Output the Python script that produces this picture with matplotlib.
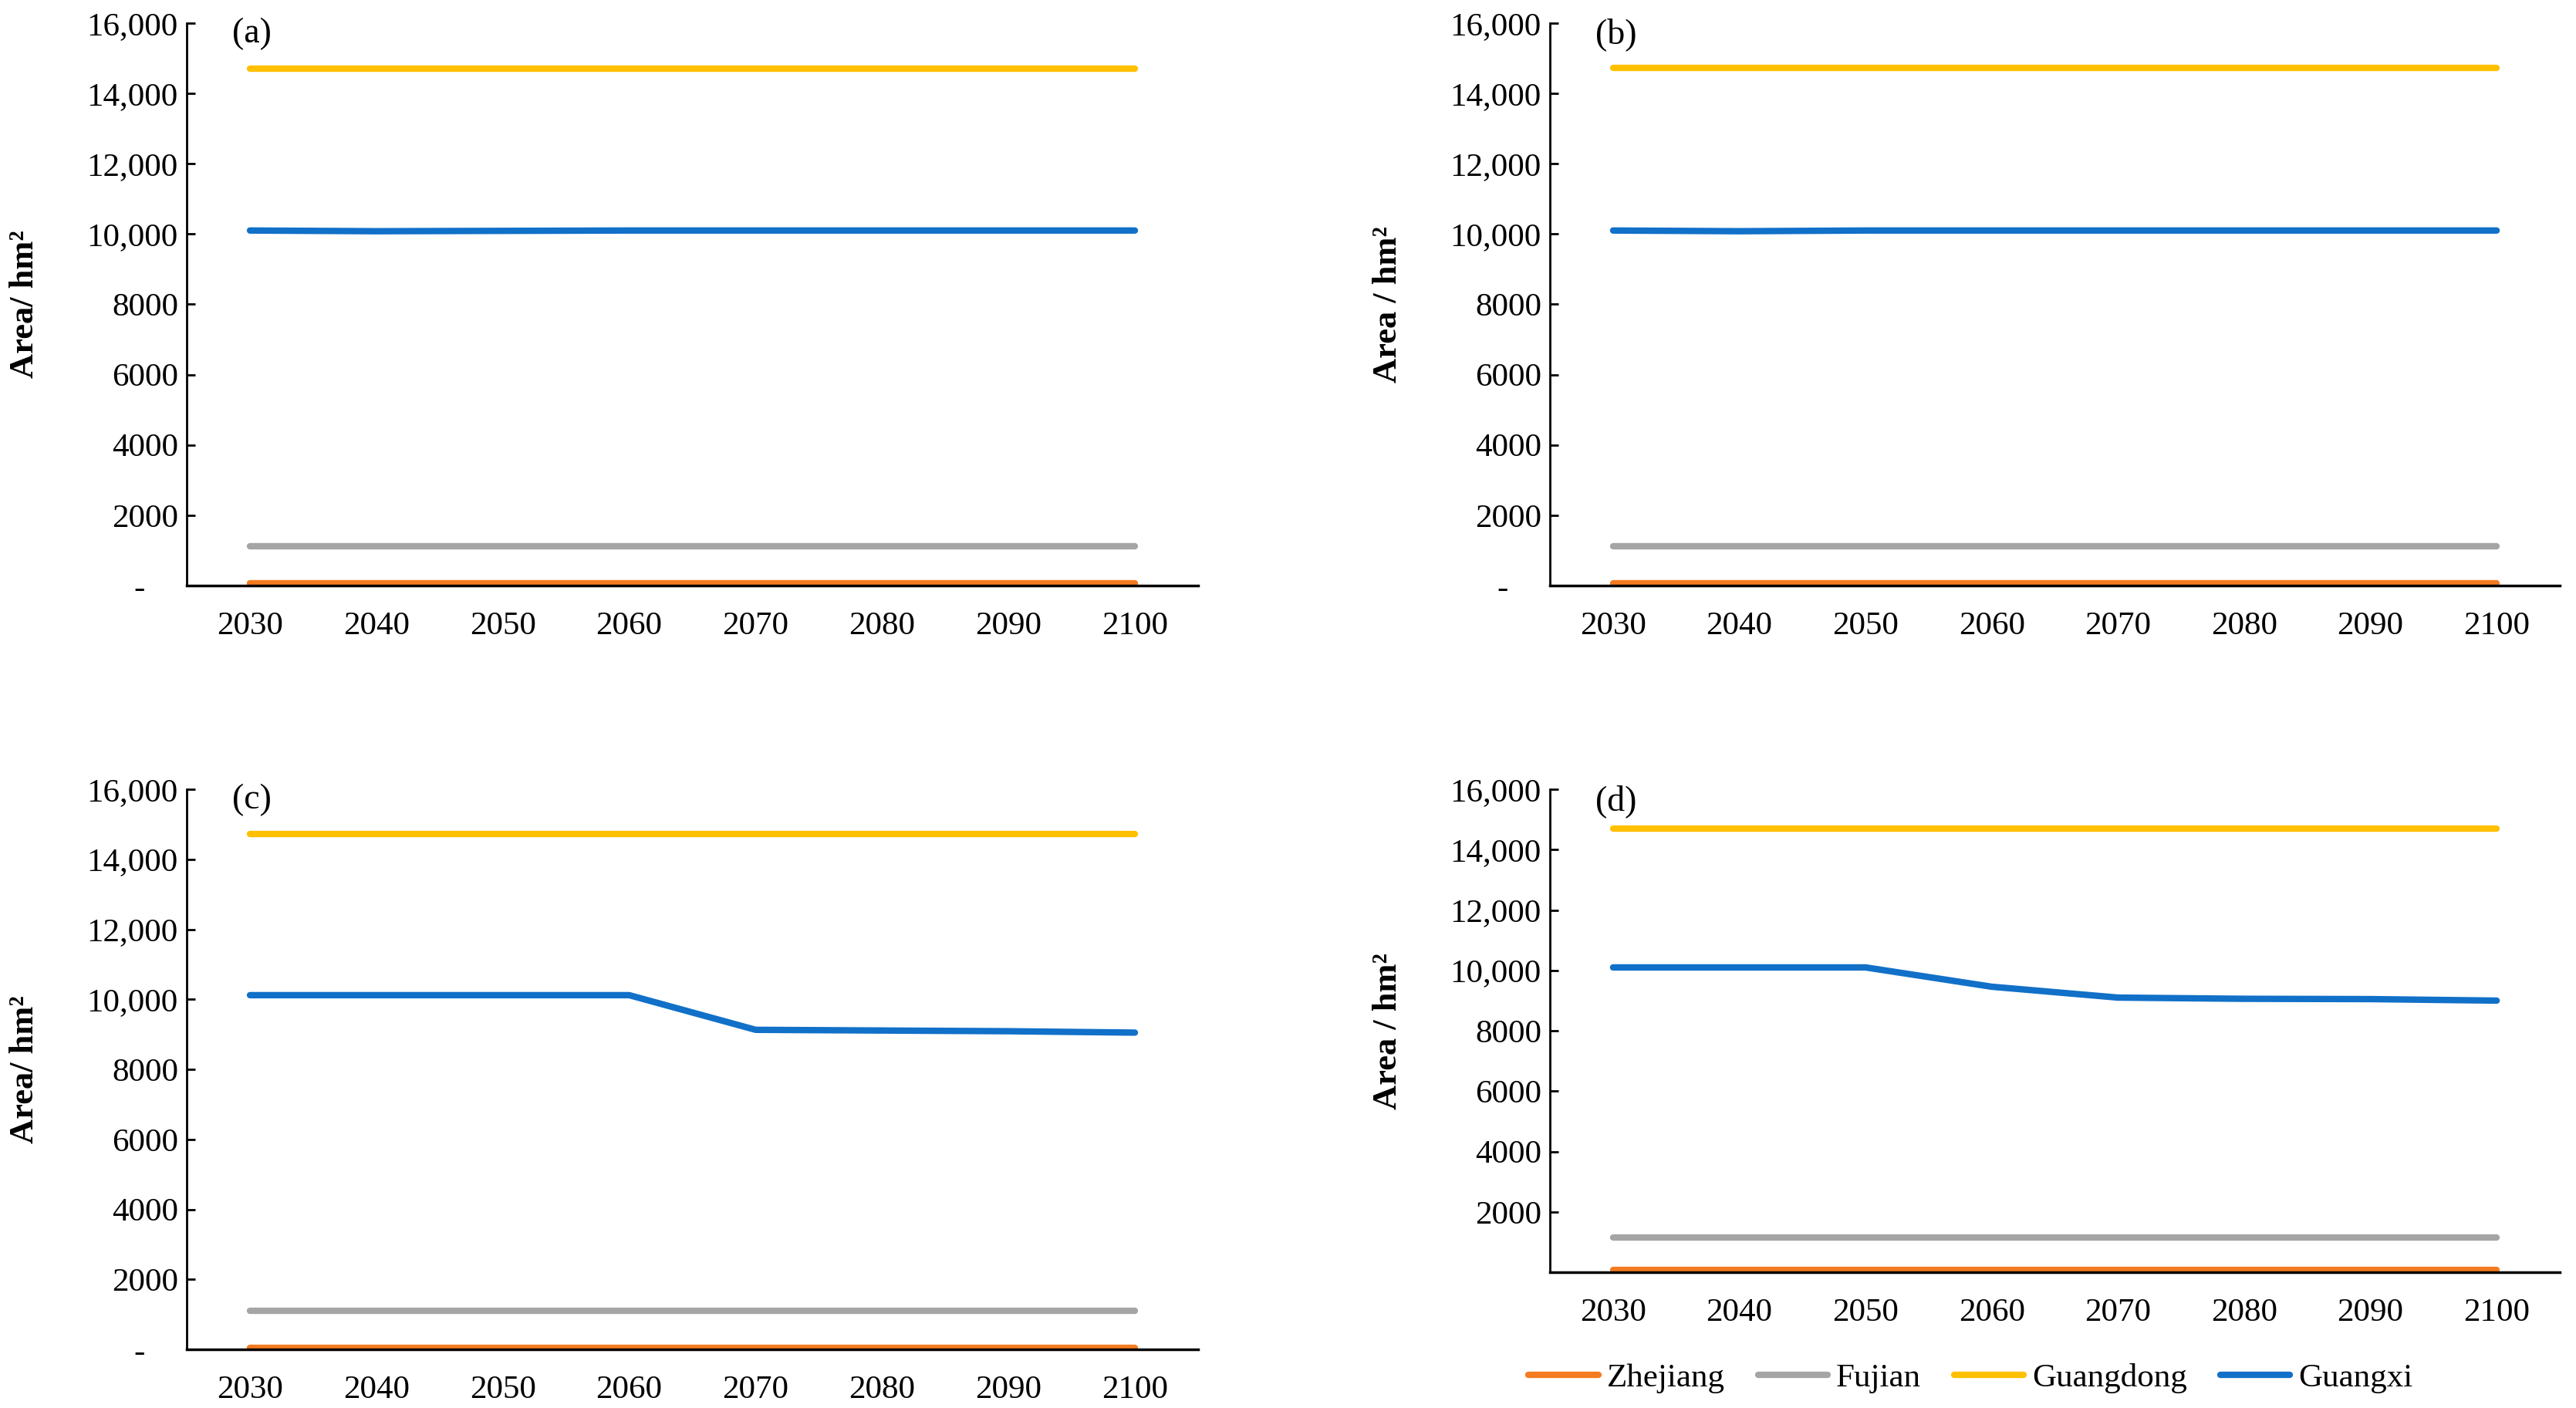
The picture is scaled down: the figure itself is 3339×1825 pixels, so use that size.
import numpy as np
import matplotlib.pyplot as plt

# years and provinces
years = [2030, 2040, 2050, 2060, 2070, 2080, 2090, 2100]
provinces = ['Zhejiang', 'Fujian', 'Guangdong', 'Guangxi']
colors = ['#F47B20', '#A5A5A5', '#FFC000', '#1170C8']

# area (hm2) per scenario
zhejiang_a = [60, 60, 60, 60, 60, 60, 60, 60]
fujian_a = [1110, 1110, 1110, 1110, 1110, 1110, 1110, 1110]
guangdong_a = [14710, 14710, 14710, 14710, 14710, 14710, 14710, 14710]
guangxi_a = [10100, 10080, 10090, 10100, 10100, 10100, 10100, 10100]

zhejiang_b = [60, 60, 60, 60, 60, 60, 60, 60]
fujian_b = [1120, 1120, 1120, 1120, 1120, 1120, 1120, 1120]
guangdong_b = [14720, 14720, 14720, 14720, 14720, 14720, 14720, 14720]
guangxi_b = [10100, 10080, 10100, 10100, 10100, 10100, 10100, 10100]

zhejiang_c = [50, 50, 50, 50, 50, 50, 50, 50]
fujian_c = [1110, 1110, 1110, 1110, 1110, 1110, 1110, 1110]
guangdong_c = [14720, 14720, 14720, 14720, 14720, 14720, 14720, 14720]
guangxi_c = [10120, 10120, 10120, 10120, 9130, 9110, 9090, 9050]

zhejiang_d = [70, 70, 70, 70, 70, 70, 70, 70]
fujian_d = [1140, 1140, 1140, 1140, 1140, 1140, 1140, 1140]
guangdong_d = [14700, 14700, 14700, 14700, 14700, 14700, 14700, 14700]
guangxi_d = [10100, 10100, 10100, 9460, 9100, 9060, 9050, 9000]

yticks = [0, 2000, 4000, 6000, 8000, 10000, 12000, 14000, 16000]
ylabels_abc = ['-    ', '2000', '4000', '6000', '8000', '10,000', '12,000', '14,000', '16,000']
ylabels_d = ['', '2000', '4000', '6000', '8000', '10,000', '12,000', '14,000', '16,000']

panels = [
    ('(a)', [zhejiang_a, fujian_a, guangdong_a, guangxi_a], 'Area/ hm²', ylabels_abc,
     [0.0725, 0.5841, 0.3926, 0.3995]),
    ('(b)', [zhejiang_b, fujian_b, guangdong_b, guangxi_b], 'Area / hm²', ylabels_abc,
     [0.6017, 0.5841, 0.3920, 0.3995]),
    ('(c)', [zhejiang_c, fujian_c, guangdong_c, guangxi_c], 'Area/ hm²', ylabels_abc,
     [0.0725, 0.0416, 0.3926, 0.3978]),
    ('(d)', [zhejiang_d, fujian_d, guangdong_d, guangxi_d], 'Area / hm²', ylabels_d,
     [0.6017, 0.0964, 0.3920, 0.3430]),
]

plt.rcParams['font.family'] = ['Liberation Serif', 'DejaVu Serif']

fig = plt.figure(figsize=(33.39, 18.25), dpi=100)
x = np.arange(len(years))

for tag, series, ylab, ylabs, rect in panels:
    ax = fig.add_axes(rect)
    for name, vals, c in zip(provinces, series, colors):
        ax.plot(x, vals, color=c, lw=6, solid_capstyle='round', label=name)
    ax.set_xlim(-0.5, 7.5)
    ax.set_ylim(0, 16000)
    ax.set_xticks(x)
    ax.set_xticklabels([str(y) for y in years])
    ax.set_yticks(yticks)
    ax.set_yticklabels(ylabs)
    ax.tick_params(axis='x', length=0, pad=24, labelsize=31)
    ax.tick_params(axis='y', direction='in', length=8, width=2, pad=8, labelsize=31)
    for s in ['top', 'right']:
        ax.spines[s].set_visible(False)
    ax.spines['left'].set_linewidth(2)
    ax.spines['bottom'].set_linewidth(2.5)
    ax.set_ylabel(ylab, fontsize=32, fontweight='bold')
    ax.yaxis.set_label_coords(-0.145, 0.5)
    ax.text(0.045, 1.01, tag, transform=ax.transAxes, fontsize=33, va='top', ha='left')
    if tag == '(d)':
        handles, labels = ax.get_legend_handles_labels()

fig.legend(handles, labels, loc='center', bbox_to_anchor=(0.765, 0.021), ncol=4,
           frameon=False, fontsize=31, handlelength=2.1, handletextpad=0.25,
           columnspacing=1.0)

fig.savefig('out.png', dpi=100)
